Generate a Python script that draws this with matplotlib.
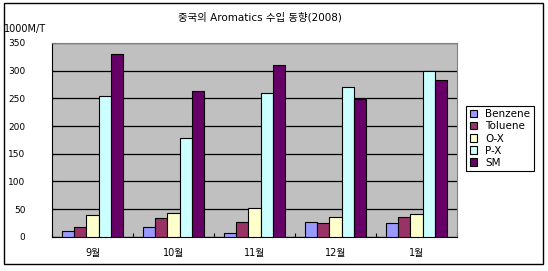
import matplotlib.pyplot as plt
import matplotlib.patches as mpatches
import numpy as np

# latin text in DejaVu (wider, like the spaced original), hangul falls back to Noto
plt.rcParams['font.family'] = ['DejaVu Sans', 'Noto Sans CJK KR']

# data
months = ['9월', '10월', '11월', '12월', '1월']
series = ['Benzene', 'Toluene', 'O-X', 'P-X', 'SM']
benzene = [11, 18, 7, 27, 25]
toluene = [18, 34, 26, 25, 36]
ox = [40, 43, 52, 36, 41]
px = [255, 178, 259, 270, 300]
sm = [331, 264, 311, 249, 284]
yticks = [0, 50, 100, 150, 200, 250, 300, 350]

values = [benzene, toluene, ox, px, sm]
colors = ['#9999FF', '#993366', '#FFFFCC', '#CCFFFF', '#660066']

fig = plt.figure(figsize=(5.48, 2.71), dpi=100)
ax = fig.add_axes([52/548, 1 - 236.7/271, (457-52)/548, (236.7-43)/271])
ax.set_facecolor('#C0C0C0')

x = np.arange(len(months))
w = 0.152
for i, (name, vals) in enumerate(zip(series, values)):
    ax.bar(x + (i - 2) * w, vals, w, color=colors[i], edgecolor='black',
           linewidth=0.8, label=name, zorder=3)

ax.set_xlim(-0.5, len(months) - 0.5)
ax.set_ylim(0, 350)
ax.set_yticks(yticks)
ax.set_yticklabels([str(v) for v in yticks])
ax.yaxis.grid(True, color='black', linewidth=0.9, zorder=1)
ax.set_axisbelow(True)
ax.set_xticks(x)
ax.set_xticklabels(months)
ax.set_xticks(np.arange(len(months) + 1) - 0.5, minor=True)
ax.tick_params(axis='x', which='major', length=0, pad=8, labelsize=7)
ax.tick_params(axis='x', which='minor', direction='in', length=3, width=0.8)
ax.tick_params(axis='y', direction='in', length=3, width=0.8, pad=19, labelsize=6.5)
for s in ['top', 'right']:
    ax.spines[s].set_color('#808080')
for s in ['left', 'bottom']:
    ax.spines[s].set_color('black')

fig.text(260/548, 1 - 17/271, '중국의 Aromatics 수입 동향(2008)', ha='center', va='center', fontsize=7.5)
fig.text(4/548, 1 - 29/271, '1000M/T', ha='left', va='center', fontsize=7)

leg = fig.legend(loc='upper left', bbox_to_anchor=(466/548, 1 - 105.7/271), fontsize=7.5,
                 frameon=True, fancybox=False, edgecolor='black', framealpha=1,
                 handlelength=0.7, handleheight=0.7, handletextpad=0.8,
                 borderpad=0.35, labelspacing=0.2, borderaxespad=0)
leg.get_frame().set_linewidth(0.8)

fig.patches.append(mpatches.Rectangle((4/548, 1 - 264/271), 539/548, 261/271,
                                      transform=fig.transFigure, fill=False,
                                      edgecolor='black', linewidth=1))

fig.savefig('out.png', dpi=100)
